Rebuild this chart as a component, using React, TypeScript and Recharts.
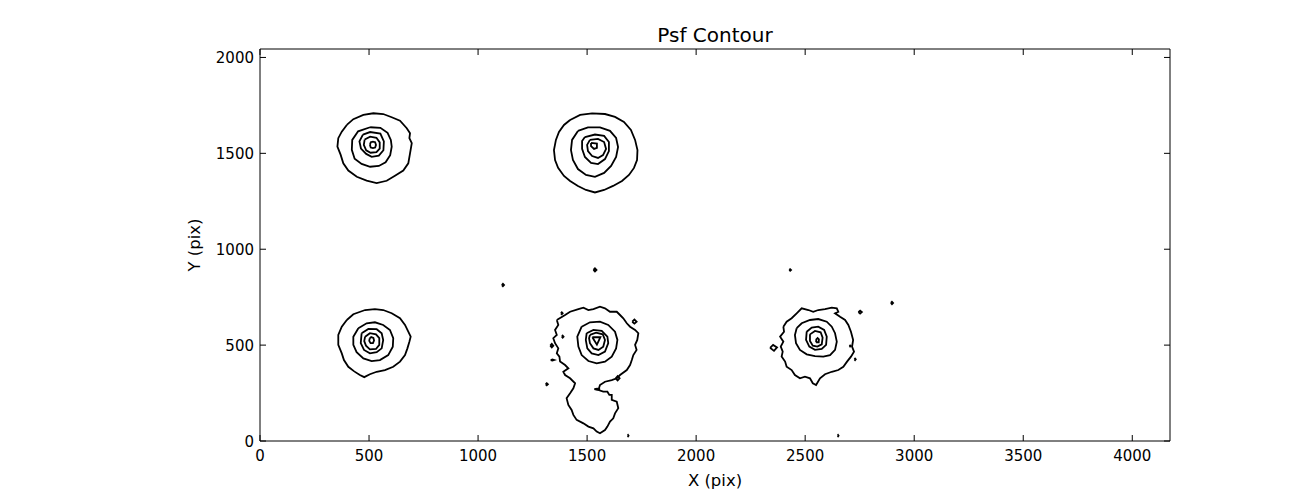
import React from 'react';
import { LineChart, Line, XAxis, YAxis } from 'recharts';

const xTicks = [0, 500, 1000, 1500, 2000, 2500, 3000, 3500, 4000];
const yTicks = [0, 500, 1000, 1500, 2000];
const xDomain = [0, 4173];
const yDomain = [0, 2044];

// Source 1 (top-left) contour levels
const s1r1 = [[398,1648],[428,1678],[474,1700],[520,1709],[565,1705],[604,1688],[642,1670],[673,1631],[688,1605],[685,1579],[696,1553],[688,1500],[680,1448],[657,1410],[619,1383],[581,1357],[535,1345],[489,1358],[444,1378],[405,1410],[382,1448],[370,1492],[355,1535],[359,1579],[375,1613]];
const s1r2 = [[505,1636],[552,1633],[585,1607],[600,1570],[604,1535],[597,1490],[576,1453],[545,1434],[505,1430],[466,1445],[434,1472],[421,1518],[423,1570],[450,1615]];
const s1r3 = [[472,1598],[505,1611],[552,1603],[568,1562],[566,1516],[545,1488],[512,1482],[487,1497],[463,1525],[456,1562]];
const s1r4 = [[480,1572],[505,1587],[534,1581],[549,1557],[549,1525],[534,1506],[507,1503],[487,1516],[476,1544]];
const s1r5 = [[504,1544],[508,1558],[518,1561],[528,1558],[532,1544],[528,1530],[518,1527],[508,1530]];

// Source 2 (top-middle)
const s2r1 = [[1422,1674],[1468,1700],[1523,1708],[1582,1705],[1628,1690],[1669,1664],[1701,1622],[1720,1570],[1731,1517],[1729,1465],[1715,1424],[1692,1387],[1660,1356],[1619,1330],[1578,1309],[1536,1296],[1495,1309],[1458,1330],[1422,1356],[1394,1382],[1367,1424],[1353,1465],[1348,1517],[1357,1570],[1371,1611],[1394,1648]];
const s2r2 = [[1458,1617],[1504,1635],[1559,1635],[1605,1617],[1633,1580],[1642,1533],[1633,1481],[1610,1434],[1578,1398],[1536,1377],[1495,1387],[1458,1418],[1435,1465],[1426,1517],[1431,1570]];
const s2r3 = [[1490,1585],[1536,1598],[1578,1591],[1600,1559],[1600,1512],[1582,1470],[1550,1444],[1518,1450],[1490,1481],[1477,1523],[1477,1564]];
const s2r4 = [[1513,1570],[1550,1575],[1578,1559],[1587,1523],[1573,1491],[1550,1476],[1523,1486],[1504,1512],[1500,1544]];
const s2r5 = [[1518,1554],[1545,1551],[1545,1528],[1532,1523],[1518,1538]];

// Source 3 (bottom-left)
const s3r1 = [[398,631],[428,661],[482,683],[527,688],[565,683],[604,666],[642,640],[665,605],[680,570],[691,544],[685,518],[676,483],[665,448],[642,414],[611,387],[573,370],[535,361],[504,348],[478,333],[458,344],[432,363],[405,387],[385,422],[375,457],[359,501],[359,553],[375,596]];
const s3r2 = [[451,588],[489,614],[527,619],[565,605],[596,579],[611,536],[609,492],[588,448],[550,422],[512,417],[474,431],[443,463],[428,501],[428,544]];
const s3r3 = [[466,562],[497,584],[535,583],[558,562],[565,527],[558,483],[535,463],[504,457],[477,475],[462,510]];
const s3r4 = [[482,544],[504,562],[532,556],[547,536],[547,501],[532,480],[504,478],[486,497],[478,521]];
const s3r5 = [[503,535],[510,542],[520,538],[523,524],[518,510],[507,510],[501,522]];

// Source 4 (bottom-middle, extended)
const s4r1 = [[1361,631],[1399,657],[1422,674],[1460,688],[1483,695],[1506,683],[1529,688],[1559,700],[1582,692],[1605,674],[1636,674],[1651,657],[1666,640],[1682,614],[1697,596],[1720,579],[1735,562],[1730,527],[1720,501],[1727,475],[1712,448],[1705,422],[1697,396],[1682,370],[1651,344],[1636,327],[1613,318],[1582,309],[1559,292],[1552,266],[1574,257],[1593,257],[1602,240],[1613,240],[1613,214],[1636,205],[1643,171],[1628,144],[1620,118],[1605,101],[1593,75],[1582,57],[1559,40],[1544,49],[1529,66],[1506,75],[1483,92],[1452,110],[1437,136],[1429,162],[1414,188],[1406,223],[1422,249],[1437,275],[1445,301],[1422,327],[1399,344],[1391,361],[1414,379],[1399,396],[1376,414],[1373,440],[1361,457],[1368,483],[1353,510],[1345,536],[1361,553],[1353,579],[1368,605]];
const s4r2 = [[1475,596],[1513,619],[1559,622],[1597,605],[1628,570],[1639,527],[1633,483],[1613,440],[1582,414],[1544,405],[1506,417],[1475,448],[1460,492],[1455,544]];
const s4r3 = [[1498,562],[1529,579],[1567,574],[1593,544],[1597,510],[1582,466],[1552,448],[1521,457],[1501,483],[1494,527]];
const s4r4 = [[1513,553],[1541,565],[1572,556],[1582,527],[1574,492],[1552,475],[1529,483],[1513,510],[1509,536]];
const s4r5 = [[1524,541],[1561,541],[1545,502]];

// Source 5 (bottom-right)
const s5r1 = [[2400,596],[2415,622],[2438,640],[2461,666],[2484,692],[2515,683],[2537,674],[2560,683],[2591,688],[2622,695],[2645,692],[2652,674],[2637,666],[2660,648],[2683,631],[2698,605],[2710,570],[2720,527],[2715,492],[2724,466],[2710,440],[2692,414],[2675,387],[2652,370],[2622,361],[2591,348],[2568,327],[2550,292],[2535,301],[2522,327],[2499,335],[2476,327],[2453,344],[2438,370],[2415,387],[2408,414],[2392,440],[2397,466],[2388,492],[2400,518],[2385,544],[2403,570]];
const s5r2 = [[2461,588],[2484,614],[2522,631],[2560,636],[2599,622],[2622,596],[2637,562],[2645,518],[2637,475],[2614,448],[2583,440],[2545,443],[2507,452],[2476,475],[2458,510],[2453,553]];
const s5r3 = [[2507,570],[2530,591],[2560,596],[2587,579],[2599,544],[2596,501],[2576,480],[2545,475],[2519,492],[2504,527]];
const s5r4 = [[2522,556],[2545,574],[2571,567],[2580,539],[2576,504],[2556,492],[2535,497],[2522,521]];
const s5r5 = [[2550,515],[2551,530],[2557,537],[2563,530],[2562,515]];

// Small isolated contours
const dotA = [[1109,813],[1114,819],[1119,813],[1114,807]];
const dotB = [[1529,892],[1536,900],[1543,892],[1536,884]];
const dotC = [[2427,892],[2431,896],[2435,892],[2431,888]];
const dotD = [[2893,720],[2898,726],[2903,720],[2898,714]];
const dotE = [[1686,28],[1688,31],[1690,28],[1688,25]];
const dotF = [[2649,28],[2651,31],[2653,28],[2651,25]];
const s4a = [[1380,666],[1384,671],[1388,666],[1384,661]];
const s4b = [[1384,544],[1388,549],[1392,544],[1388,539]];
const s4c = [[1331,497],[1338,506],[1345,497],[1338,488]];
const s4d = [[1333,422],[1341,425],[1349,422],[1341,419]];
const s4e = [[1310,296],[1315,301],[1320,296],[1315,291]];
const s4f = [[1707,622],[1717,633],[1727,622],[1717,612]];
const s4g = [[1631,327],[1640,338],[1649,327],[1640,316]];
const s4h = [[1533,270],[1546,273],[1559,270],[1546,267]];
const s5a = [[2744,672],[2752,680],[2760,672],[2752,664]];
const s5b = [[2703,495],[2706,498],[2709,495],[2706,492]];
const s5c = [[2726,426],[2729,430],[2732,426],[2729,422]];
const s5d = [[2339,486],[2353,501],[2371,488],[2357,470]];

const contourList = [
  s1r1, s1r2, s1r3, s1r4, s1r5,
  s2r1, s2r2, s2r3, s2r4, s2r5,
  s3r1, s3r2, s3r3, s3r4, s3r5,
  s4r1, s4r2, s4r3, s4r4, s4r5,
  s5r1, s5r2, s5r3, s5r4, s5r5,
  dotA, dotB, dotC, dotD, dotE, dotF,
  s4a, s4b, s4c, s4d, s4e, s4f, s4g, s4h,
  s5a, s5b, s5c, s5d,
];

const closed = (arr: number[][]) => {
  const r = arr.map(([x, y]) => ({ x, y }));
  r.push({ x: arr[0][0], y: arr[0][1] });
  return r;
};

const FONT = 'DejaVu Sans';

const BottomTick = (props: any) => {
  const { x, y, payload } = props;
  return (
    <g>
      <line x1={x} y1={y} x2={x} y2={y - 6} stroke="#000" strokeWidth={1} />
      <text x={x} y={y + 20} textAnchor="middle" fontSize={15} fontFamily={FONT} fill="#000">{payload.value}</text>
    </g>
  );
};
const TopTick = (props: any) => {
  const { x, y } = props;
  return <line x1={x} y1={y} x2={x} y2={y + 6} stroke="#000" strokeWidth={1} />;
};
const LeftTick = (props: any) => {
  const { x, y, payload } = props;
  return (
    <g>
      <line x1={x} y1={y} x2={x + 6} y2={y} stroke="#000" strokeWidth={1} />
      <text x={x - 6} y={y + 5.5} textAnchor="end" fontSize={15} fontFamily={FONT} fill="#000">{payload.value}</text>
    </g>
  );
};
const RightTick = (props: any) => {
  const { x, y } = props;
  return <line x1={x} y1={y} x2={x - 6} y2={y} stroke="#000" strokeWidth={1} />;
};

export default function App() {
  return (
    <div style={{ position: 'absolute', left: 0, top: 0, width: 1300, height: 490, background: '#fff' }}>
      <LineChart width={1300} height={490} margin={{ top: 0, right: 0, bottom: 0, left: 0 }}>
        <XAxis xAxisId="b" type="number" dataKey="x" domain={xDomain} allowDataOverflow ticks={xTicks} interval={0}
          height={49} tickSize={0} tickMargin={0} tickLine={false} axisLine={{ stroke: '#000', strokeWidth: 1 }} tick={<BottomTick />} />
        <XAxis xAxisId="t" orientation="top" type="number" dataKey="x" domain={xDomain} allowDataOverflow ticks={xTicks} interval={0}
          height={49} tickSize={0} tickMargin={0} tickLine={false} axisLine={{ stroke: '#000', strokeWidth: 1 }} tick={<TopTick />} />
        <YAxis yAxisId="l" type="number" dataKey="y" domain={yDomain} allowDataOverflow ticks={yTicks} interval={0}
          width={260} tickSize={0} tickMargin={0} tickLine={false} axisLine={{ stroke: '#000', strokeWidth: 1 }} tick={<LeftTick />} />
        <YAxis yAxisId="r" orientation="right" type="number" dataKey="y" domain={yDomain} allowDataOverflow ticks={yTicks} interval={0}
          width={130} tickSize={0} tickMargin={0} tickLine={false} axisLine={{ stroke: '#000', strokeWidth: 1 }} tick={<RightTick />} />
        {contourList.map((c, i) => (
          <Line key={i} xAxisId="b" yAxisId="l" data={closed(c)} dataKey="y" type="linear" stroke="#000"
            strokeWidth={1.8} dot={false} activeDot={false} isAnimationActive={false} legendType="none" />
        ))}
      </LineChart>
      <svg width={1300} height={490} style={{ position: 'absolute', left: 0, top: 0, pointerEvents: 'none' }}>
        <text x={715} y={42} textAnchor="middle" fontSize={20} fontFamily={FONT} fill="#000">Psf Contour</text>
        <text x={715} y={485.5} textAnchor="middle" fontSize={16.5} fontFamily={FONT} fill="#000">X (pix)</text>
        <text x={200} y={245} textAnchor="middle" fontSize={16.5} fontFamily={FONT} fill="#000" transform="rotate(-90 200 245)">Y (pix)</text>
      </svg>
    </div>
  );
}
